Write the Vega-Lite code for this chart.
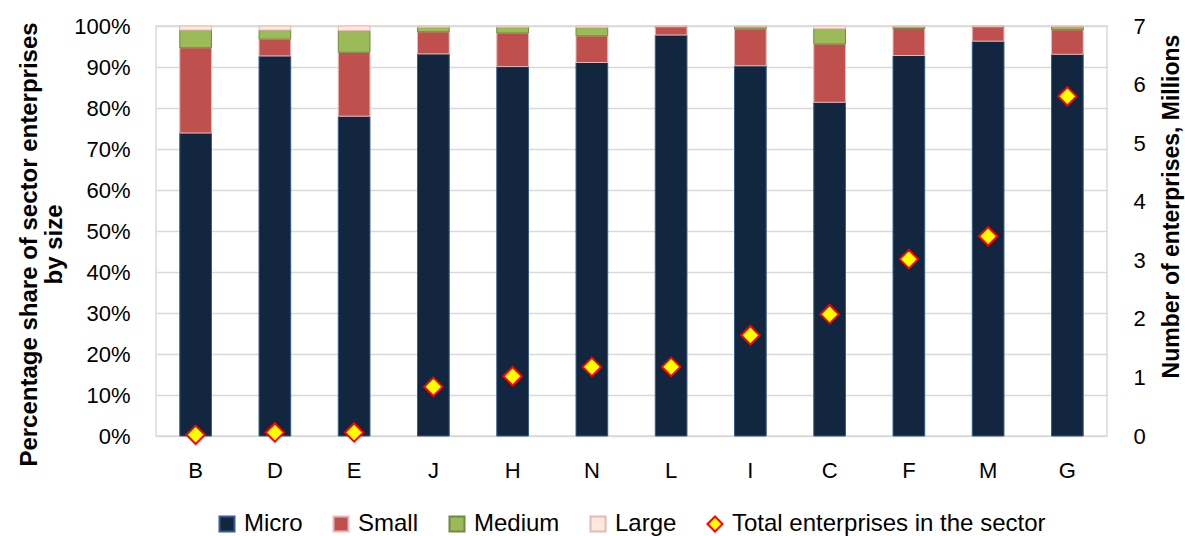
{
  "$schema": "https://vega.github.io/schema/vega-lite/v6.json",
  "width": 951,
  "height": 410,
  "autosize": {"type": "none"},
  "padding": {"left": 156, "top": 26, "right": 78, "bottom": 100},
  "background": "white",
  "config": {
    "font": "Liberation Sans",
    "view": {"stroke": "#d9d9d9", "strokeWidth": 1.5},
    "axis": {"labelColor": "#000", "titleColor": "#000", "labelFont": "Liberation Sans", "titleFont": "Liberation Sans"}
  },
  "datasets": {
    "shares": [
      {"Sector": "B", "Size": "Micro", "Share": 73.9}, {"Sector": "B", "Size": "Small", "Share": 20.8}, {"Sector": "B", "Size": "Medium", "Share": 4.3}, {"Sector": "B", "Size": "Large", "Share": 1.0},
      {"Sector": "D", "Size": "Micro", "Share": 92.7}, {"Sector": "D", "Size": "Small", "Share": 4.1}, {"Sector": "D", "Size": "Medium", "Share": 2.2}, {"Sector": "D", "Size": "Large", "Share": 1.0},
      {"Sector": "E", "Size": "Micro", "Share": 78.0}, {"Sector": "E", "Size": "Small", "Share": 15.6}, {"Sector": "E", "Size": "Medium", "Share": 5.3}, {"Sector": "E", "Size": "Large", "Share": 1.1},
      {"Sector": "J", "Size": "Micro", "Share": 93.2}, {"Sector": "J", "Size": "Small", "Share": 5.4}, {"Sector": "J", "Size": "Medium", "Share": 1.1}, {"Sector": "J", "Size": "Large", "Share": 0.3},
      {"Sector": "H", "Size": "Micro", "Share": 90.1}, {"Sector": "H", "Size": "Small", "Share": 8.2}, {"Sector": "H", "Size": "Medium", "Share": 1.4}, {"Sector": "H", "Size": "Large", "Share": 0.3},
      {"Sector": "N", "Size": "Micro", "Share": 91.1}, {"Sector": "N", "Size": "Small", "Share": 6.5}, {"Sector": "N", "Size": "Medium", "Share": 2.0}, {"Sector": "N", "Size": "Large", "Share": 0.4},
      {"Sector": "L", "Size": "Micro", "Share": 97.8}, {"Sector": "L", "Size": "Small", "Share": 1.9}, {"Sector": "L", "Size": "Medium", "Share": 0.2}, {"Sector": "L", "Size": "Large", "Share": 0.1},
      {"Sector": "I", "Size": "Micro", "Share": 90.3}, {"Sector": "I", "Size": "Small", "Share": 9.0}, {"Sector": "I", "Size": "Medium", "Share": 0.5}, {"Sector": "I", "Size": "Large", "Share": 0.2},
      {"Sector": "C", "Size": "Micro", "Share": 81.4}, {"Sector": "C", "Size": "Small", "Share": 14.2}, {"Sector": "C", "Size": "Medium", "Share": 3.7}, {"Sector": "C", "Size": "Large", "Share": 0.7},
      {"Sector": "F", "Size": "Micro", "Share": 92.8}, {"Sector": "F", "Size": "Small", "Share": 6.6}, {"Sector": "F", "Size": "Medium", "Share": 0.4}, {"Sector": "F", "Size": "Large", "Share": 0.2},
      {"Sector": "M", "Size": "Micro", "Share": 96.3}, {"Sector": "M", "Size": "Small", "Share": 3.4}, {"Sector": "M", "Size": "Medium", "Share": 0.2}, {"Sector": "M", "Size": "Large", "Share": 0.1},
      {"Sector": "G", "Size": "Micro", "Share": 93.1}, {"Sector": "G", "Size": "Small", "Share": 6.0}, {"Sector": "G", "Size": "Medium", "Share": 0.7}, {"Sector": "G", "Size": "Large", "Share": 0.2}
    ],
    "totals": [
      {"Sector": "B", "Series": "Total enterprises in the sector", "Total": 0.02},
      {"Sector": "D", "Series": "Total enterprises in the sector", "Total": 0.06},
      {"Sector": "E", "Series": "Total enterprises in the sector", "Total": 0.06},
      {"Sector": "J", "Series": "Total enterprises in the sector", "Total": 0.84},
      {"Sector": "H", "Series": "Total enterprises in the sector", "Total": 1.02},
      {"Sector": "N", "Series": "Total enterprises in the sector", "Total": 1.18},
      {"Sector": "L", "Series": "Total enterprises in the sector", "Total": 1.18},
      {"Sector": "I", "Series": "Total enterprises in the sector", "Total": 1.72},
      {"Sector": "C", "Series": "Total enterprises in the sector", "Total": 2.08},
      {"Sector": "F", "Series": "Total enterprises in the sector", "Total": 3.02},
      {"Sector": "M", "Series": "Total enterprises in the sector", "Total": 3.41},
      {"Sector": "G", "Series": "Total enterprises in the sector", "Total": 5.80}
    ]
  },
  "encoding": {
    "x": {
      "field": "Sector", "type": "nominal",
      "sort": ["B", "D", "E", "J", "H", "N", "L", "I", "C", "F", "M", "G"],
      "scale": {"paddingInner": 0.6, "paddingOuter": 0.3},
      "axis": {"title": null, "labelAngle": 0, "labelFontSize": 22, "ticks": false, "domain": false, "labelPadding": 24, "labelBaseline": "top"}
    }
  },
  "layer": [
    {
      "data": {"name": "shares"},
      "transform": [{"calculate": "indexof(['Micro','Small','Medium','Large'], datum.Size)", "as": "k"}],
      "mark": {"type": "bar", "strokeWidth": 1},
      "encoding": {
        "y": {
          "field": "Share", "type": "quantitative", "stack": "zero",
          "scale": {"domain": [0, 100], "nice": false},
          "axis": {
            "values": [0, 10, 20, 30, 40, 50, 60, 70, 80, 90, 100],
            "labelExpr": "datum.value + '%'",
            "labelFontSize": 22, "ticks": false, "domain": false, "labelPadding": 26,
            "gridColor": "#d9d9d9", "gridWidth": 1.5,
            "title": ["Percentage share of sector enterprises", "by size"],
            "titleFontSize": 24, "titleFontWeight": "bold", "titleAngle": -90,
            "titleX": -127, "titleY": 218, "titleAlign": "center", "titleBaseline": "middle", "titleLineHeight": 25
          }
        },
        "order": {"field": "k", "type": "quantitative"},
        "color": {
          "field": "Size", "type": "nominal",
          "scale": {
            "domain": ["Micro", "Small", "Medium", "Large", "Total enterprises in the sector"],
            "range": ["#12263f", "#c0504d", "#9bbb59", "#fde9d9", "#ffff00"]
          },
          "legend": {
            "title": null, "orient": "none", "direction": "horizontal",
            "legendX": 59, "legendY": 486,
            "labelFontSize": 24, "labelColor": "#000", "labelLimit": 0,
            "symbolSize": 225, "symbolType": "square", "columnPadding": 26, "labelOffset": 5,
            "encode": {
              "symbols": {
                "update": {
                  "shape": {"signal": "datum.value === 'Total enterprises in the sector' ? 'diamond' : 'square'"},
                  "stroke": {"signal": "datum.value === 'Total enterprises in the sector' ? '#ff0000' : datum.value === 'Micro' ? '#385d8a' : datum.value === 'Medium' ? '#71893f' : '#e6b9b8'"},
                  "strokeWidth": {"value": 2}
                }
              }
            }
          }
        },
        "stroke": {
          "field": "Size", "type": "nominal",
          "scale": {"domain": ["Micro", "Small", "Medium", "Large"], "range": ["#385d8a", "#e6b9b8", "#71893f", "#e6b9b8"]},
          "legend": null
        }
      }
    },
    {
      "data": {"name": "totals"},
      "mark": {"type": "point", "shape": "diamond", "filled": true, "size": 340, "stroke": "#ff0000", "strokeWidth": 2, "opacity": 1},
      "encoding": {
        "y": {
          "field": "Total", "type": "quantitative",
          "scale": {"domain": [0, 7], "nice": false},
          "axis": {
            "orient": "right", "values": [0, 1, 2, 3, 4, 5, 6, 7], "grid": false,
            "labelFontSize": 22, "ticks": false, "domain": false, "labelPadding": 26,
            "title": "Number of enterprises, Millions",
            "titleFontSize": 23, "titleFontWeight": "bold", "titleAngle": -90,
            "titleX": 64, "titleY": 180, "titleAlign": "center", "titleBaseline": "middle"
          }
        },
        "color": {"field": "Series", "type": "nominal"}
      }
    }
  ],
  "resolve": {"scale": {"y": "independent", "stroke": "independent"}}
}
